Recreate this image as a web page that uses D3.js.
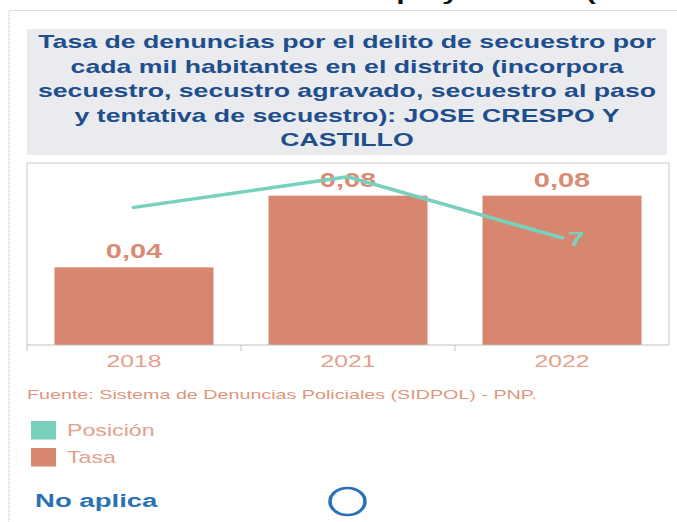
<!DOCTYPE html>
<html>
<head>
<meta charset="utf-8">
<script src="https://cdn.jsdelivr.net/npm/d3@7"></script>
<style>
  html, body { margin: 0; padding: 0; background: #fff; overflow: hidden; }
  svg { display: block; font-family: Arial, "Liberation Sans", sans-serif; }
</style>
</head>
<body>
<svg id="chart"></svg>
<script>
// data
const years = ["2018", "2021", "2022"];
const tasa = [0.0416, 0.08, 0.08];
const posicion = [9, 11, 7];
const titleLines = [
  "Tasa de denuncias por el delito de secuestro por",
  "cada mil habitantes en el distrito (incorpora",
  "secuestro, secustro agravado, secuestro al paso",
  "y tentativa de secuestro): JOSE CRESPO Y",
  "CASTILLO"
];
const legendItems = ["Posición", "Tasa"];
const fuente = "Fuente: Sistema de Denuncias Policiales (SIDPOL) - PNP.";

const width = 677;
const height = 522;
const sx = 1.45; // the screenshot is stretched sideways
const W = width / sx;

const barColor = "#d7866f";
const lineColor = "#78d0bd";
const salmonText = "#e09580";

const svg = d3.select("#chart")
  .attr("width", width)
  .attr("height", height)
  .attr("viewBox", `0 0 ${W} ${height}`)
  .attr("preserveAspectRatio", "none");

const es = d3.formatLocale({ decimal: ",", thousands: ".", grouping: [3], currency: ["S/", ""] });
const fmt = es.format(".2f");

// dotted outer border
svg.append("path")
  .attr("d", `M${9 / sx},${height} V10.5 H${W}`)
  .attr("fill", "none")
  .attr("stroke", "#bdbdbd")
  .attr("stroke-dasharray", "1,1")
  .attr("vector-effect", "non-scaling-stroke");

// heading above, mostly scrolled out of view
svg.append("text")
  .attr("x", 173)
  .attr("y", 0)
  .attr("font-size", 21)
  .attr("font-weight", "bold")
  .attr("fill", "#111")
  .text("Jose Crespo y Castillo (Huánuco)");

// title box
const left = 27 / sx, right = 669 / sx;
svg.append("rect")
  .attr("x", left).attr("y", 29)
  .attr("width", 667 / sx - left).attr("height", 126)
  .attr("fill", "#e9ebef");

svg.append("g")
  .selectAll("text")
  .data(titleLines)
  .join("text")
  .attr("x", (left + 667 / sx) / 2)
  .attr("y", (d, i) => 48.5 + i * 24.5)
  .attr("text-anchor", "middle")
  .attr("font-size", 18.4)
  .attr("font-weight", "bold")
  .attr("fill", "#1f4e8c")
  .text(d => d);

// plot
const plotTop = 163, plotBottom = 345;

const x = d3.scaleBand()
  .domain(years)
  .range([left, right])
  .paddingInner(0.257)
  .paddingOuter(0.1285);

const y = d3.scaleLinear().domain([0, 0.0975]).range([plotBottom, plotTop]);
const y2 = d3.scaleLinear().domain([0, 11.9]).range([plotBottom, plotTop]);

// frame
svg.append("path")
  .attr("d", `M${left},${plotBottom} V${plotTop} H${right} V${plotBottom}`)
  .attr("fill", "none")
  .attr("stroke", "#c8c8c8")
  .attr("vector-effect", "non-scaling-stroke");

svg.append("g")
  .selectAll("rect")
  .data(tasa)
  .join("rect")
  .attr("x", (d, i) => x(years[i]))
  .attr("y", d => y(d))
  .attr("width", x.bandwidth())
  .attr("height", d => plotBottom - y(d))
  .attr("fill", barColor);

svg.append("g")
  .selectAll("text")
  .data(tasa)
  .join("text")
  .attr("x", (d, i) => x(years[i]) + x.bandwidth() / 2)
  .attr("y", d => y(d) - 9)
  .attr("text-anchor", "middle")
  .attr("font-size", 20)
  .attr("font-weight", "bold")
  .attr("fill", "#db8a74")
  .text(d => fmt(d));

// x axis
const gap = (x.step() - x.bandwidth()) / 2;
const ticks = years.map(d => x(d) - gap);

svg.append("line")
  .attr("x1", left).attr("x2", right)
  .attr("y1", plotBottom).attr("y2", plotBottom)
  .attr("stroke", "#bfbfbf")
  .attr("vector-effect", "non-scaling-stroke");

svg.append("g")
  .selectAll("line")
  .data(ticks)
  .join("line")
  .attr("x1", d => d).attr("x2", d => d)
  .attr("y1", plotBottom).attr("y2", plotBottom + 6)
  .attr("stroke", "#bfbfbf")
  .attr("vector-effect", "non-scaling-stroke");

svg.append("g")
  .selectAll("text")
  .data(years)
  .join("text")
  .attr("x", d => x(d) + x.bandwidth() / 2)
  .attr("y", 367)
  .attr("text-anchor", "middle")
  .attr("font-size", 17)
  .attr("fill", "#e3a08c")
  .text(d => d);

// position line
const line = d3.line()
  .x((d, i) => x(years[i]) + x.bandwidth() / 2)
  .y(d => y2(d));

svg.append("path")
  .datum(posicion)
  .attr("d", line)
  .attr("fill", "none")
  .attr("stroke", lineColor)
  .attr("stroke-width", 3.5)
  .attr("stroke-linecap", "round")
  .attr("stroke-linejoin", "round");

const last = posicion.length - 1;
svg.append("text")
  .attr("x", x(years[last]) + x.bandwidth() / 2 + 4)
  .attr("y", y2(posicion[last]) + 8)
  .attr("font-size", 21)
  .attr("font-weight", "bold")
  .attr("fill", lineColor)
  .text(posicion[last]);

// source
svg.append("text")
  .attr("x", 27 / sx)
  .attr("y", 399)
  .attr("font-size", 13.6)
  .attr("fill", salmonText)
  .text(fuente);

// legend
const legend = svg.append("g")
  .selectAll("g")
  .data(legendItems)
  .join("g")
  .attr("transform", (d, i) => `translate(${31 / sx},${421 + i * 27})`);

legend.append("rect")
  .attr("width", 25 / sx)
  .attr("height", 18.5)
  .attr("fill", (d, i) => i === 0 ? lineColor : barColor);

legend.append("text")
  .attr("x", 36 / sx)
  .attr("y", 15)
  .attr("font-size", 16)
  .attr("fill", "#e3a08d")
  .text(d => d);

// no aplica
svg.append("text")
  .attr("x", 35 / sx)
  .attr("y", 507)
  .attr("font-size", 19)
  .attr("font-weight", "bold")
  .attr("fill", "#2a72b5")
  .text("No aplica");

svg.append("ellipse")
  .attr("cx", 347.5 / sx)
  .attr("cy", 501.5)
  .attr("rx", 17.5 / sx)
  .attr("ry", 13.5)
  .attr("fill", "none")
  .attr("stroke", "#2a72b5")
  .attr("stroke-width", 2.5);
</script>
</body>
</html>
